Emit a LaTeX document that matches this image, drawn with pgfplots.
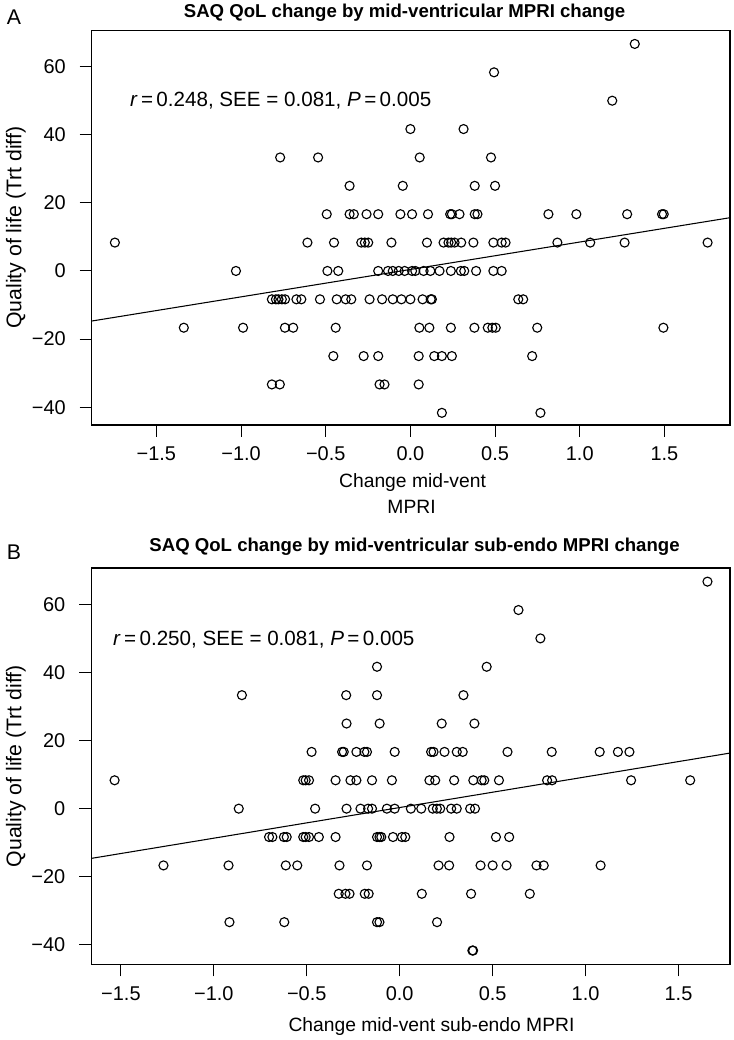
\documentclass[border=0pt]{standalone}
\usepackage{fontspec}
\setmainfont{Liberation Sans}
\usepackage{pgfplots}
\pgfplotsset{compat=1.18}
\pgfplotsset{
  rplot/.style={
    scale only axis,
    axis line style={line width=0.8pt, black},
    tick style={line width=0.8pt, black},
    tick align=outside, major tick length=9pt,
    xtick={-1.5,-1,-0.5,0,0.5,1,1.5},
    xticklabels={−1.5,−1.0,−0.5,0.0,0.5,1.0,1.5},
    ytick={-40,-20,0,20,40,60},
    yticklabels={−40,−20,0,20,40,60},
    ticklabel style={font=\fontsize{15}{18}\selectfont},
    xticklabel style={yshift=-4pt},
    yticklabel style={xshift=-7pt},
    xtick pos=left, ytick pos=left,
  },
  pts/.style={only marks, mark=o, mark size=3.4pt, black, mark options={line width=0.85pt}},
  fit/.style={no marks, black, line width=0.8pt},
}
\begin{document}
\begin{tikzpicture}
\begin{scope}[x=0.75pt,y=-0.75pt]
\path (0,0) rectangle (736,1040);
\end{scope}

% ---------------- Panel A ----------------
\begin{axis}[rplot,
  at={(69pt,-21.225pt)}, anchor=north west,
  width=480.5pt, height=297pt,
  xmin=-1.882, xmax=1.888, ymin=-45.24, ymax=70.65]
\addplot[pts] table[row sep=\\] {
x y\\
1.325 66.67\\
0.494 58.33\\
1.192 50\\
0.000 41.67\\ 0.314 41.67\\
-0.769 33.33\\ -0.545 33.33\\ 0.055 33.33\\ 0.476 33.33\\
-0.359 25\\ -0.045 25\\ 0.380 25\\ 0.500 25\\
-0.494 16.67\\ -0.359 16.67\\ -0.334 16.67\\ -0.259 16.67\\ -0.190 16.67\\ -0.059 16.67\\ 0.010 16.67\\ 0.104 16.67\\ 0.235 16.67\\ 0.245 16.67\\ 0.290 16.67\\ 0.380 16.67\\ 0.396 16.67\\ 0.815 16.67\\ 0.980 16.67\\ 1.280 16.67\\ 1.486 16.67\\ 1.496 16.67\\
-1.745 8.33\\ -0.608 8.33\\ -0.451 8.33\\ -0.290 8.33\\ -0.269 8.33\\ -0.249 8.33\\ -0.112 8.33\\ 0.098 8.33\\ 0.196 8.33\\ 0.225 8.33\\ 0.241 8.33\\ 0.261 8.33\\ 0.300 8.33\\ 0.372 8.33\\ 0.490 8.33\\ 0.539 8.33\\ 0.562 8.33\\ 0.868 8.33\\ 1.062 8.33\\ 1.265 8.33\\ 1.755 8.33\\
-1.030 0\\ -0.490 0\\ -0.426 0\\ -0.190 0\\ -0.132 0\\ -0.104 0\\ -0.069 0\\ -0.034 0\\ 0.010 0\\ 0.029 0\\ 0.078 0\\ 0.118 0\\ 0.172 0\\ 0.239 0\\ 0.298 0\\ 0.318 0\\ 0.388 0\\ 0.490 0\\ 0.539 0\\
-0.818 -8.33\\ -0.794 -8.33\\ -0.779 -8.33\\ -0.759 -8.33\\ -0.740 -8.33\\ -0.673 -8.33\\ -0.644 -8.33\\ -0.534 -8.33\\ -0.435 -8.33\\ -0.382 -8.33\\ -0.349 -8.33\\ -0.241 -8.33\\ -0.167 -8.33\\ -0.104 -8.33\\ -0.053 -8.33\\ 0.000 -8.33\\ 0.072 -8.33\\ 0.120 -8.33\\ 0.127 -8.33\\ 0.637 -8.33\\ 0.666 -8.33\\
-1.338 -16.67\\ -0.988 -16.67\\ -0.741 -16.67\\ -0.692 -16.67\\ -0.441 -16.67\\ 0.053 -16.67\\ 0.112 -16.67\\ 0.239 -16.67\\ 0.378 -16.67\\ 0.457 -16.67\\ 0.484 -16.67\\ 0.504 -16.67\\ 0.749 -16.67\\ 1.494 -16.67\\
-0.455 -25\\ -0.276 -25\\ -0.190 -25\\ 0.049 -25\\ 0.141 -25\\ 0.186 -25\\ 0.245 -25\\ 0.719 -25\\
-0.818 -33.33\\ -0.771 -33.33\\ -0.182 -33.33\\ -0.153 -33.33\\ 0.049 -33.33\\
0.186 -41.67\\ 0.768 -41.67\\
};
\addplot[fit] coordinates {(-1.882,-14.71) (1.888,15.64)};
\node[anchor=west, inner sep=0pt, font=\fontsize{15.5}{18}\selectfont] at (axis cs:-1.657,49.9)
  {\textit{r}\,=\,0.248, SEE = 0.081, \textit{P}\,=\,0.005};
\end{axis}

% ---------------- Panel B ----------------
\begin{axis}[rplot,
  at={(68.625pt,-425.775pt)}, anchor=north west,
  width=480.9pt, height=298.5pt,
  xmin=-1.660, xmax=1.778, ymin=-45.77, ymax=70.7]
\addplot[pts] table[row sep=\\] {
x y\\
1.656 66.67\\
0.639 58.33\\
0.757 50\\
-0.122 41.67\\ 0.468 41.67\\
-0.849 33.33\\ -0.288 33.33\\ -0.122 33.33\\ 0.343 33.33\\
-0.286 25\\ -0.108 25\\ 0.226 25\\ 0.402 25\\
-0.474 16.67\\ -0.310 16.67\\ -0.301 16.67\\ -0.233 16.67\\ -0.190 16.67\\ -0.176 16.67\\ -0.027 16.67\\ 0.169 16.67\\ 0.182 16.67\\ 0.241 16.67\\ 0.307 16.67\\ 0.339 16.67\\ 0.580 16.67\\ 0.818 16.67\\ 1.076 16.67\\ 1.174 16.67\\ 1.236 16.67\\
-1.534 8.33\\ -0.519 8.33\\ -0.506 8.33\\ -0.488 8.33\\ -0.345 8.33\\ -0.265 8.33\\ -0.233 8.33\\ -0.149 8.33\\ -0.042 8.33\\ 0.160 8.33\\ 0.191 8.33\\ 0.293 8.33\\ 0.396 8.33\\ 0.441 8.33\\ 0.455 8.33\\ 0.534 8.33\\ 0.793 8.33\\ 0.820 8.33\\ 1.245 8.33\\ 1.563 8.33\\
-0.866 0\\ -0.455 0\\ -0.286 0\\ -0.211 0\\ -0.170 0\\ -0.149 0\\ -0.069 0\\ -0.027 0\\ 0.060 0\\ 0.116 0\\ 0.178 0\\ 0.200 0\\ 0.218 0\\ 0.277 0\\ 0.307 0\\ 0.379 0\\ 0.405 0\\
-0.703 -8.33\\ -0.685 -8.33\\ -0.623 -8.33\\ -0.608 -8.33\\ -0.519 -8.33\\ -0.506 -8.33\\ -0.488 -8.33\\ -0.435 -8.33\\ -0.345 -8.33\\ -0.122 -8.33\\ -0.109 -8.33\\ -0.099 -8.33\\ -0.036 -8.33\\ 0.012 -8.33\\ 0.030 -8.33\\ 0.268 -8.33\\ 0.518 -8.33\\ 0.589 -8.33\\
-1.271 -16.67\\ -0.921 -16.67\\ -0.613 -16.67\\ -0.551 -16.67\\ -0.324 -16.67\\ -0.176 -16.67\\ 0.209 -16.67\\ 0.266 -16.67\\ 0.435 -16.67\\ 0.500 -16.67\\ 0.575 -16.67\\ 0.736 -16.67\\ 0.775 -16.67\\ 1.081 -16.67\\
-0.328 -25\\ -0.292 -25\\ -0.270 -25\\ -0.188 -25\\ -0.167 -25\\ 0.119 -25\\ 0.384 -25\\ 0.700 -25\\
-0.916 -33.33\\ -0.621 -33.33\\ -0.122 -33.33\\ -0.109 -33.33\\ 0.201 -33.33\\
0.391 -41.67\\ 0.395 -41.67\\
};
\addplot[fit] coordinates {(-1.660,-14.61) (1.778,16.33)};
\node[anchor=west, inner sep=0pt, font=\fontsize{15.5}{18}\selectfont] at (axis cs:-1.543,49.75)
  {\textit{r}\,=\,0.250, SEE = 0.081, \textit{P}\,=\,0.005};
\end{axis}

% ---------------- Frames and labels ----------------
\begin{scope}[x=0.75pt,y=-0.75pt]
\draw[black, line width=1pt, line cap=rect] (92,28.3) -- (732.7,28.3) -- (732.7,424.3);
\draw[black, line width=1pt, line cap=rect] (91.5,567.7) -- (732.7,567.7) -- (732.7,965.7);
\node[font=\fontsize{16}{19}\selectfont] at (14,15) {A};
\node[font=\fontsize{16}{19}\selectfont] at (14,552) {B};
\node[font=\bfseries\fontsize{14}{16}\selectfont] at (406,11) {SAQ QoL change by mid-ventricular MPRI change};
\node[font=\bfseries\fontsize{14}{16}\selectfont] at (416,546) {SAQ QoL change by mid-ventricular sub-endo MPRI change};
\node[rotate=90, font=\fontsize{16}{19}\selectfont] at (16,226.3) {Quality of life (Trt diff)};
\node[rotate=90, font=\fontsize{16}{19}\selectfont] at (16,766.7) {Quality of life (Trt diff)};
\node[font=\fontsize{14.5}{17}\selectfont] at (414,481.7) {Change mid-vent};
\node[font=\fontsize{14.5}{17}\selectfont] at (413,506.7) {MPRI};
\node[font=\fontsize{14.5}{17}\selectfont] at (433,1028) {Change mid-vent sub-endo MPRI};
\end{scope}
\end{tikzpicture}
\end{document}
